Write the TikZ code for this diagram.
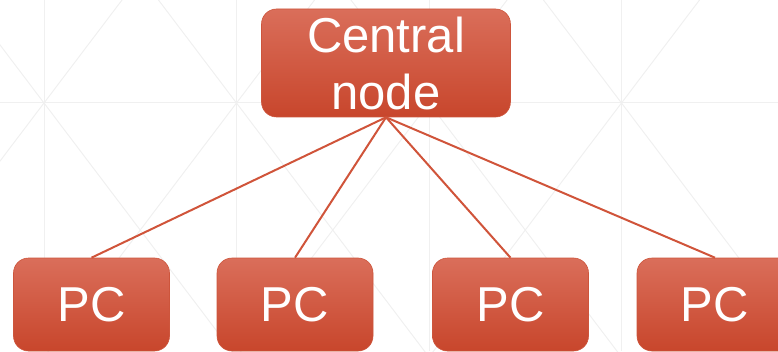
\documentclass[tikz,border=0pt]{standalone}
\usepackage{fontspec}
\setmainfont{Liberation Sans}
\usetikzlibrary{calc}

\definecolor{boxtop}{RGB}{218,110,90}
\definecolor{boxbot}{RGB}{200,70,44}
\definecolor{boxedge}{RGB}{205,85,60}
\definecolor{wire}{RGB}{208,84,58}
\definecolor{lattice}{RGB}{240,240,240}

\tikzset{
  box/.style={rectangle, rounded corners=15pt, draw=boxedge, line width=0.6pt,
    top color=boxtop, bottom color=boxbot, text=white, inner sep=0pt,
    font=\fontsize{49}{57}\selectfont, align=center},
  link/.style={draw=wire, line width=2pt}
}

\begin{document}
\begin{tikzpicture}[x=1pt, y=1pt]
\useasboundingbox (0,0) rectangle (778,351);
%\draw (0,0) rectangle (778,351);

% faint background lattice
\begin{scope}
  \clip (0,0) rectangle (778,351);
  \draw[lattice, line width=1pt] (0,248) -- (778,248);
  \foreach \vx in {44,236.5,429,621.5} {
    \draw[lattice, line width=1pt] (\vx,0) -- (\vx,351);
    \draw[lattice, line width=1pt] ($(\vx,248) + (-300,-396)$) -- ++(600,792);
    \draw[lattice, line width=1pt] ($(\vx,248) + (-300,396)$) -- ++(600,-792);
  }
\end{scope}

\coordinate (hub) at (386,288);
\coordinate (pcrow) at (91.5,46.5);
\coordinate (pc2pos) at ($(pcrow) + (203.5,0)$);
\coordinate (pc3pos) at ($(pc2pos) + (215.5,0)$);
\coordinate (pc4pos) at ($(pc3pos) + (204.5,0)$);

\node[box, minimum width=249pt, minimum height=108pt] (central) at (hub) {Central\\node};

\node[box, minimum width=156pt, minimum height=93pt] (pc1) at (pcrow) {PC};
\node[box, minimum width=156pt, minimum height=93pt] (pc2) at (pc2pos) {PC};
\node[box, minimum width=156pt, minimum height=93pt] (pc3) at (pc3pos) {PC};
\node[box, minimum width=156pt, minimum height=93pt] (pc4) at (pc4pos) {PC};

\draw[link] (central.south) -- (pc1.north);
\draw[link] (central.south) -- (pc2.north);
\draw[link] (central.south) -- (pc3.north);
\draw[link] (central.south) -- (pc4.north);

\end{tikzpicture}
\end{document}
